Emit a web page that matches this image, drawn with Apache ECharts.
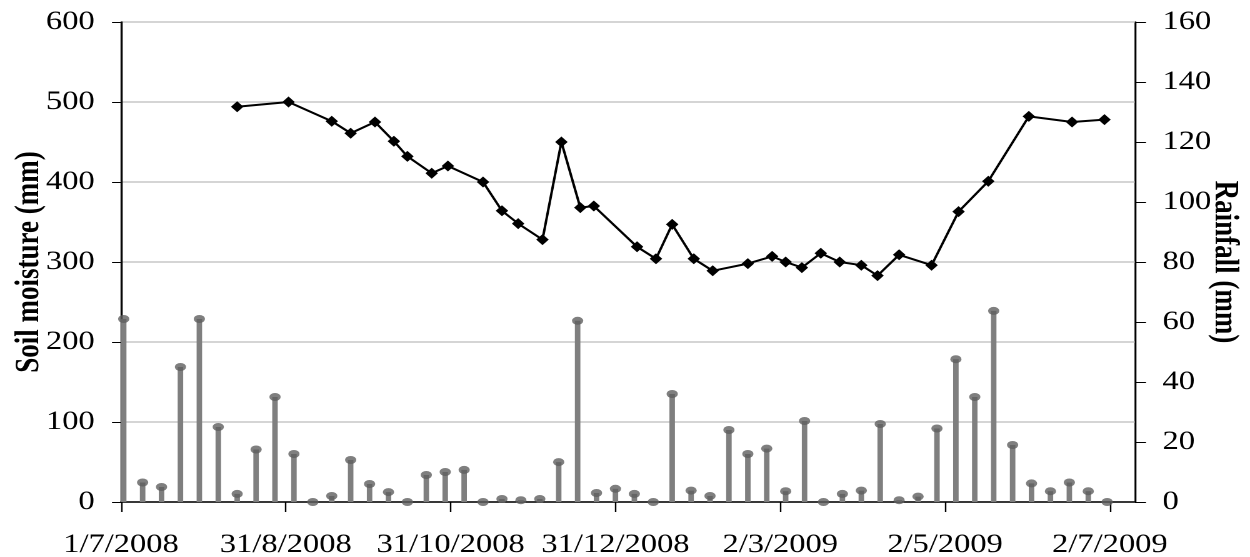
<!DOCTYPE html>
<html>
<head>
<meta charset="utf-8">
<script src="https://cdn.jsdelivr.net/npm/echarts@6/dist/echarts.min.js"></script>
<style>
  html, body { margin: 0; padding: 0; background: #fff; overflow: hidden; }
  #wrap { width: 1250px; height: 557px; overflow: hidden; }
  /* the original figure is stretched sideways, so draw narrower and widen */
  #chart { width: 1000px; height: 557px; transform: scaleX(1.25); transform-origin: 0 0; }
</style>
</head>
<body>
<div id="wrap"><div id="chart"></div></div>
<script>
// soil moisture readings (mm)
const soilDates = [
  '2008-08-13', '2008-09-01', '2008-09-17', '2008-09-24', '2008-10-03', '2008-10-10',
  '2008-10-15', '2008-10-24', '2008-10-30', '2008-11-12', '2008-11-19', '2008-11-25',
  '2008-12-04', '2008-12-11', '2008-12-18', '2008-12-23', '2009-01-08', '2009-01-15',
  '2009-01-21', '2009-01-29', '2009-02-05', '2009-02-18', '2009-02-27', '2009-03-04',
  '2009-03-10', '2009-03-17', '2009-03-24', '2009-04-01', '2009-04-07', '2009-04-15',
  '2009-04-27', '2009-05-07', '2009-05-18', '2009-06-02', '2009-06-18', '2009-06-30'
];
const soilMoisture = [
  494, 500, 476, 461, 475, 451,
  432, 411, 420, 400, 364, 348,
  328, 450, 368, 370, 319, 304,
  347, 304, 289, 298, 307, 300,
  293, 311, 300, 296, 283, 309,
  296, 363, 401, 482, 475, 478
];

// weekly rainfall (mm)
const rainDates = [
  '2008-07-02', '2008-07-09', '2008-07-16', '2008-07-23', '2008-07-30', '2008-08-06',
  '2008-08-13', '2008-08-20', '2008-08-27', '2008-09-03', '2008-09-10', '2008-09-17',
  '2008-09-24', '2008-10-01', '2008-10-08', '2008-10-15', '2008-10-22', '2008-10-29',
  '2008-11-05', '2008-11-12', '2008-11-19', '2008-11-26', '2008-12-03', '2008-12-10',
  '2008-12-17', '2008-12-24', '2008-12-31', '2009-01-07', '2009-01-14', '2009-01-21',
  '2009-01-28', '2009-02-04', '2009-02-11', '2009-02-18', '2009-02-25', '2009-03-04',
  '2009-03-11', '2009-03-18', '2009-03-25', '2009-04-01', '2009-04-08', '2009-04-15',
  '2009-04-22', '2009-04-29', '2009-05-06', '2009-05-13', '2009-05-20', '2009-05-27',
  '2009-06-03', '2009-06-10', '2009-06-17', '2009-06-24', '2009-07-01'
];
const rainfall = [
  61, 6.5, 5, 45, 61, 25,
  2.7, 17.5, 35, 16, 0, 2,
  14, 6, 3.3, 0, 9, 10,
  10.7, 0, 1, 0.6, 1, 13.3,
  60.4, 3, 4.4, 2.7, 0, 36,
  3.8, 2, 24, 16, 17.8, 3.6,
  27, 0, 2.7, 3.8, 26, 0.6,
  1.8, 24.5, 47.6, 35, 63.7, 19,
  6.2, 3.6, 6.5, 3.6, 0
];

// x axis tick dates
const xTickDates = ['2008-07-01', '2008-08-31', '2008-10-31', '2008-12-31', '2009-03-02', '2009-05-02', '2009-07-02'];

const DAY = 86400000;
const origin = Date.UTC(2008, 6, 1);
function toDay(s) {
  const p = s.split('-').map(Number);
  return (Date.UTC(p[0], p[1] - 1, p[2]) - origin) / DAY;
}
function dayLabel(v) {
  const d = new Date(origin + Math.round(v) * DAY);
  return d.getUTCDate() + '/' + (d.getUTCMonth() + 1) + '/' + d.getUTCFullYear();
}

const xTicks = xTickDates.map(toDay);
const soilData = soilDates.map((d, i) => [toDay(d), soilMoisture[i]]);
const rainData = rainDates.map((d, i) => [toDay(d), rainfall[i]]);

const font = '"Liberation Serif", "Times New Roman", serif';
const chart = echarts.init(document.getElementById('chart'), null, { renderer: 'canvas', devicePixelRatio: 2 });

const option = {
  backgroundColor: '#fff',
  animation: false,
  grid: {
    left: 96.8, right: 92, top: 22, bottom: 55,
    outerBoundsMode: 'none',
    show: true, borderColor: '#555', borderWidth: 1
  },
  xAxis: {
    type: 'value',
    min: 0,
    max: 375.3,
    axisLine: { lineStyle: { color: '#000', width: 1.5 } },
    axisTick: { customValues: xTicks, length: 10, lineStyle: { color: '#000', width: 1.2 } },
    axisLabel: {
      customValues: xTicks,
      formatter: dayLabel,
      color: '#000', fontFamily: font, fontSize: 26, margin: 30
    },
    splitLine: { show: false }
  },
  yAxis: [
    {
      type: 'value',
      min: 0, max: 600, interval: 100,
      name: 'Soil moisture (mm)',
      nameLocation: 'middle',
      nameGap: 60,
      nameMoveOverlap: false,
      nameTextStyle: { fontFamily: font, fontSize: 27, fontWeight: 'bold', color: '#000' },
      axisLine: { show: true, lineStyle: { color: '#000', width: 1.3 } },
      axisTick: { show: true, length: 7.2, lineStyle: { color: '#000' } },
      axisLabel: { color: '#000', fontFamily: font, fontSize: 26, margin: 21 },
      splitLine: { lineStyle: { color: '#c8c8c8', width: 1.5 } }
    },
    {
      type: 'value',
      min: 0, max: 160, interval: 20,
      name: 'Rainfall (mm)',
      nameLocation: 'middle',
      nameRotate: -90,
      nameGap: 58,
      nameMoveOverlap: false,
      nameTextStyle: { fontFamily: font, fontSize: 27, fontWeight: 'bold', color: '#000' },
      axisLine: { show: true, lineStyle: { color: '#000', width: 1.3 } },
      axisTick: { show: true, length: 8.8, lineStyle: { color: '#000' } },
      axisLabel: { color: '#000', fontFamily: font, fontSize: 26, margin: 22 },
      splitLine: { show: false }
    }
  ],
  series: [
    {
      name: 'Rainfall',
      type: 'bar',
      yAxisIndex: 1,
      barWidth: 4.4,
      itemStyle: { color: '#7f7f7f' },
      data: rainData,
      z: 2
    },
    {
      name: 'Rainfall top',
      type: 'scatter',
      yAxisIndex: 1,
      symbol: 'circle',
      symbolSize: [9, 8],
      itemStyle: { color: '#5f5f5f' },
      data: rainData,
      z: 3
    },
    {
      name: 'Soil moisture',
      type: 'line',
      yAxisIndex: 0,
      symbol: 'diamond',
      symbolSize: [10, 11],
      showAllSymbol: true,
      lineStyle: { color: '#000', width: 2 },
      itemStyle: { color: '#000' },
      data: soilData,
      z: 4
    }
  ]
};

chart.setOption(option);
</script>
</body>
</html>
